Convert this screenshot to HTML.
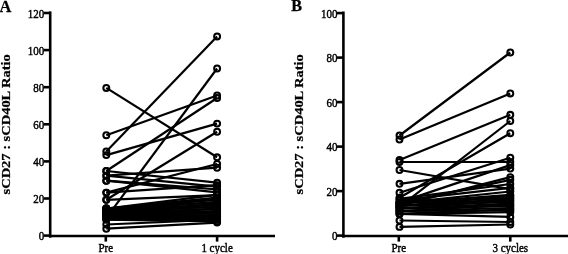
<!DOCTYPE html>
<html><head><meta charset="utf-8"><style>
html,body{margin:0;padding:0;background:#fff;}
body{width:568px;height:254px;overflow:hidden;}
svg{display:block;will-change:transform;}
</style></head><body>
<svg width="568" height="254" viewBox="0 0 568 254">
<g stroke="#000" stroke-width="2.6" fill="none"><line x1="50.2" y1="11.4" x2="50.2" y2="237.7"/><line x1="48.900000000000006" y1="235.95" x2="275" y2="235.95"/><line x1="43.7" y1="235.6" x2="50.2" y2="235.6"/><line x1="43.7" y1="198.5" x2="50.2" y2="198.5"/><line x1="43.7" y1="161.4" x2="50.2" y2="161.4"/><line x1="43.7" y1="124.3" x2="50.2" y2="124.3"/><line x1="43.7" y1="87.2" x2="50.2" y2="87.2"/><line x1="43.7" y1="50.1" x2="50.2" y2="50.1"/><line x1="43.7" y1="13.0" x2="50.2" y2="13.0"/><line x1="105.80000000000001" y1="235.6" x2="105.80000000000001" y2="241.6"/><line x1="217.10000000000002" y1="235.6" x2="217.10000000000002" y2="241.6"/></g><g font-family="Liberation Serif, serif" font-size="11" fill="#000" stroke="#000" stroke-width="0.4"><text transform="translate(44.3,240.1) scale(1,1.08)" text-anchor="end">0</text><text transform="translate(44.3,203.0) scale(1,1.08)" text-anchor="end">20</text><text transform="translate(44.3,165.9) scale(1,1.08)" text-anchor="end">40</text><text transform="translate(44.3,128.8) scale(1,1.08)" text-anchor="end">60</text><text transform="translate(44.3,91.7) scale(1,1.08)" text-anchor="end">80</text><text transform="translate(44.3,54.6) scale(1,1.08)" text-anchor="end">100</text><text transform="translate(44.3,17.5) scale(1,1.08)" text-anchor="end">120</text><text transform="translate(105.80000000000001,251.5) scale(1,1.08)" text-anchor="middle">Pre</text><text transform="translate(217.10000000000002,251.5) scale(1,1.08)" text-anchor="middle">1 cycle</text></g><g stroke="#000" stroke-width="2.6" fill="none"><line x1="343.4" y1="11.5" x2="343.4" y2="237.7"/><line x1="342.09999999999997" y1="235.95" x2="568" y2="235.95"/><line x1="336.9" y1="235.6" x2="343.4" y2="235.6"/><line x1="336.9" y1="191.1" x2="343.4" y2="191.1"/><line x1="336.9" y1="146.6" x2="343.4" y2="146.6"/><line x1="336.9" y1="102.1" x2="343.4" y2="102.1"/><line x1="336.9" y1="57.6" x2="343.4" y2="57.6"/><line x1="336.9" y1="13.1" x2="343.4" y2="13.1"/><line x1="398.79999999999995" y1="235.6" x2="398.79999999999995" y2="241.6"/><line x1="510.29999999999995" y1="235.6" x2="510.29999999999995" y2="241.6"/></g><g font-family="Liberation Serif, serif" font-size="11" fill="#000" stroke="#000" stroke-width="0.4"><text transform="translate(337.5,240.1) scale(1,1.08)" text-anchor="end">0</text><text transform="translate(337.5,195.6) scale(1,1.08)" text-anchor="end">20</text><text transform="translate(337.5,151.1) scale(1,1.08)" text-anchor="end">40</text><text transform="translate(337.5,106.6) scale(1,1.08)" text-anchor="end">60</text><text transform="translate(337.5,62.1) scale(1,1.08)" text-anchor="end">80</text><text transform="translate(337.5,17.6) scale(1,1.08)" text-anchor="end">100</text><text transform="translate(398.79999999999995,251.5) scale(1,1.08)" text-anchor="middle">Pre</text><text transform="translate(510.29999999999995,251.5) scale(1,1.08)" text-anchor="middle">3 cycles</text></g><g stroke="#000" stroke-width="2.2"><line x1="106.3" y1="87.9" x2="217.1" y2="157.3"/><line x1="106.3" y1="135.2" x2="217.1" y2="95.5"/><line x1="106.3" y1="151.4" x2="217.1" y2="36.4"/><line x1="106.3" y1="155.1" x2="217.1" y2="123.6"/><line x1="106.3" y1="171.0" x2="217.1" y2="98.0"/><line x1="106.3" y1="217.8" x2="217.1" y2="68.5"/><line x1="106.3" y1="199.8" x2="217.1" y2="131.7"/><line x1="106.3" y1="171.0" x2="217.1" y2="182.7"/><line x1="106.3" y1="175.7" x2="217.1" y2="167.7"/><line x1="106.3" y1="192.6" x2="217.1" y2="164.0"/><line x1="106.3" y1="175.7" x2="217.1" y2="186.6"/><line x1="106.3" y1="180.7" x2="217.1" y2="189.4"/><line x1="106.3" y1="180.7" x2="217.1" y2="192.4"/><line x1="106.3" y1="199.8" x2="217.1" y2="195.2"/><line x1="106.3" y1="192.6" x2="217.1" y2="185.1"/><line x1="106.3" y1="208.5" x2="217.1" y2="194.8"/><line x1="106.3" y1="208.5" x2="217.1" y2="197.6"/><line x1="106.3" y1="208.5" x2="217.1" y2="200.0"/><line x1="106.3" y1="208.5" x2="217.1" y2="202.6"/><line x1="106.3" y1="210.4" x2="217.1" y2="198.9"/><line x1="106.3" y1="210.4" x2="217.1" y2="201.8"/><line x1="106.3" y1="210.4" x2="217.1" y2="204.8"/><line x1="106.3" y1="210.4" x2="217.1" y2="207.0"/><line x1="106.3" y1="212.2" x2="217.1" y2="204.1"/><line x1="106.3" y1="212.2" x2="217.1" y2="206.7"/><line x1="106.3" y1="212.2" x2="217.1" y2="209.3"/><line x1="106.3" y1="212.2" x2="217.1" y2="211.9" stroke-width="1.8"/><line x1="106.3" y1="214.1" x2="217.1" y2="208.5"/><line x1="106.3" y1="214.1" x2="217.1" y2="211.1"/><line x1="106.3" y1="214.1" x2="217.1" y2="213.7" stroke-width="1.8"/><line x1="106.3" y1="214.1" x2="217.1" y2="215.9"/><line x1="106.3" y1="215.9" x2="217.1" y2="212.6"/><line x1="106.3" y1="215.9" x2="217.1" y2="215.2"/><line x1="106.3" y1="215.9" x2="217.1" y2="217.4"/><line x1="106.3" y1="217.8" x2="217.1" y2="216.7"/><line x1="106.3" y1="217.8" x2="217.1" y2="219.3"/><line x1="106.3" y1="219.6" x2="217.1" y2="218.2"/><line x1="106.3" y1="219.6" x2="217.1" y2="221.5"/><line x1="106.3" y1="224.5" x2="217.1" y2="219.6"/><line x1="106.3" y1="228.7" x2="217.1" y2="222.6"/></g><g stroke="#000" stroke-width="2.05" fill="none"><circle cx="106.3" cy="87.9" r="2.95"/><circle cx="217.1" cy="157.3" r="2.95"/><circle cx="106.3" cy="135.2" r="2.95"/><circle cx="217.1" cy="95.5" r="2.95"/><circle cx="106.3" cy="151.4" r="2.95"/><circle cx="217.1" cy="36.4" r="2.95"/><circle cx="106.3" cy="155.1" r="2.95"/><circle cx="217.1" cy="123.6" r="2.95"/><circle cx="106.3" cy="171.0" r="2.95"/><circle cx="217.1" cy="98.0" r="2.95"/><circle cx="106.3" cy="217.8" r="2.95"/><circle cx="217.1" cy="68.5" r="2.95"/><circle cx="106.3" cy="199.8" r="2.95"/><circle cx="217.1" cy="131.7" r="2.95"/><circle cx="106.3" cy="171.0" r="2.95"/><circle cx="217.1" cy="182.7" r="2.95"/><circle cx="106.3" cy="175.7" r="2.95"/><circle cx="217.1" cy="167.7" r="2.95"/><circle cx="106.3" cy="192.6" r="2.95"/><circle cx="217.1" cy="164.0" r="2.95"/><circle cx="106.3" cy="175.7" r="2.95"/><circle cx="217.1" cy="186.6" r="2.95"/><circle cx="106.3" cy="180.7" r="2.95"/><circle cx="217.1" cy="189.4" r="2.95"/><circle cx="106.3" cy="180.7" r="2.95"/><circle cx="217.1" cy="192.4" r="2.95"/><circle cx="106.3" cy="199.8" r="2.95"/><circle cx="217.1" cy="195.2" r="2.95"/><circle cx="106.3" cy="192.6" r="2.95"/><circle cx="217.1" cy="185.1" r="2.95"/><circle cx="106.3" cy="208.5" r="2.95"/><circle cx="217.1" cy="194.8" r="2.95"/><circle cx="106.3" cy="208.5" r="2.95"/><circle cx="217.1" cy="197.6" r="2.95"/><circle cx="106.3" cy="208.5" r="2.95"/><circle cx="217.1" cy="200.0" r="2.95"/><circle cx="106.3" cy="208.5" r="2.95"/><circle cx="217.1" cy="202.6" r="2.95"/><circle cx="106.3" cy="210.4" r="2.95"/><circle cx="217.1" cy="198.9" r="2.95"/><circle cx="106.3" cy="210.4" r="2.95"/><circle cx="217.1" cy="201.8" r="2.95"/><circle cx="106.3" cy="210.4" r="2.95"/><circle cx="217.1" cy="204.8" r="2.95"/><circle cx="106.3" cy="210.4" r="2.95"/><circle cx="217.1" cy="207.0" r="2.95"/><circle cx="106.3" cy="212.2" r="2.95"/><circle cx="217.1" cy="204.1" r="2.95"/><circle cx="106.3" cy="212.2" r="2.95"/><circle cx="217.1" cy="206.7" r="2.95"/><circle cx="106.3" cy="212.2" r="2.95"/><circle cx="217.1" cy="209.3" r="2.95"/><circle cx="106.3" cy="212.2" r="2.95"/><circle cx="217.1" cy="211.9" r="2.95"/><circle cx="106.3" cy="214.1" r="2.95"/><circle cx="217.1" cy="208.5" r="2.95"/><circle cx="106.3" cy="214.1" r="2.95"/><circle cx="217.1" cy="211.1" r="2.95"/><circle cx="106.3" cy="214.1" r="2.95"/><circle cx="217.1" cy="213.7" r="2.95"/><circle cx="106.3" cy="214.1" r="2.95"/><circle cx="217.1" cy="215.9" r="2.95"/><circle cx="106.3" cy="215.9" r="2.95"/><circle cx="217.1" cy="212.6" r="2.95"/><circle cx="106.3" cy="215.9" r="2.95"/><circle cx="217.1" cy="215.2" r="2.95"/><circle cx="106.3" cy="215.9" r="2.95"/><circle cx="217.1" cy="217.4" r="2.95"/><circle cx="106.3" cy="217.8" r="2.95"/><circle cx="217.1" cy="216.7" r="2.95"/><circle cx="106.3" cy="217.8" r="2.95"/><circle cx="217.1" cy="219.3" r="2.95"/><circle cx="106.3" cy="219.6" r="2.95"/><circle cx="217.1" cy="218.2" r="2.95"/><circle cx="106.3" cy="219.6" r="2.95"/><circle cx="217.1" cy="221.5" r="2.95"/><circle cx="106.3" cy="224.5" r="2.95"/><circle cx="217.1" cy="219.6" r="2.95"/><circle cx="106.3" cy="228.7" r="2.95"/><circle cx="217.1" cy="222.6" r="2.95"/></g><g stroke="#000" stroke-width="2.2"><line x1="399.5" y1="135.5" x2="510.3" y2="52.5"/><line x1="399.5" y1="139.5" x2="510.3" y2="93.4"/><line x1="399.5" y1="159.9" x2="510.3" y2="114.8"/><line x1="399.5" y1="162.0" x2="510.3" y2="162.0" stroke-width="1.8"/><line x1="399.5" y1="170.0" x2="510.3" y2="189.1"/><line x1="399.5" y1="183.8" x2="510.3" y2="168.6"/><line x1="399.5" y1="192.7" x2="510.3" y2="157.7"/><line x1="399.5" y1="206.9" x2="510.3" y2="121.0"/><line x1="399.5" y1="197.8" x2="510.3" y2="133.2"/><line x1="399.5" y1="202.4" x2="510.3" y2="165.1"/><line x1="399.5" y1="205.6" x2="510.3" y2="177.1"/><line x1="399.5" y1="203.3" x2="510.3" y2="179.8"/><line x1="399.5" y1="198.9" x2="510.3" y2="184.0"/><line x1="399.5" y1="200.4" x2="510.3" y2="187.8"/><line x1="399.5" y1="203.1" x2="510.3" y2="191.5"/><line x1="399.5" y1="203.1" x2="510.3" y2="194.9"/><line x1="399.5" y1="203.1" x2="510.3" y2="197.8"/><line x1="399.5" y1="205.8" x2="510.3" y2="196.0"/><line x1="399.5" y1="205.8" x2="510.3" y2="199.1"/><line x1="399.5" y1="205.8" x2="510.3" y2="201.8"/><line x1="399.5" y1="208.5" x2="510.3" y2="200.4"/><line x1="399.5" y1="208.5" x2="510.3" y2="203.6"/><line x1="399.5" y1="208.5" x2="510.3" y2="206.2"/><line x1="399.5" y1="211.1" x2="510.3" y2="204.9"/><line x1="399.5" y1="211.1" x2="510.3" y2="208.0"/><line x1="399.5" y1="211.1" x2="510.3" y2="210.7" stroke-width="1.8"/><line x1="399.5" y1="213.8" x2="510.3" y2="209.3"/><line x1="399.5" y1="213.8" x2="510.3" y2="212.2"/><line x1="399.5" y1="213.8" x2="510.3" y2="216.9"/><line x1="399.5" y1="220.5" x2="510.3" y2="222.0"/><line x1="399.5" y1="226.9" x2="510.3" y2="224.5"/></g><g stroke="#000" stroke-width="2.05" fill="none"><circle cx="399.5" cy="135.5" r="2.95"/><circle cx="510.3" cy="52.5" r="2.95"/><circle cx="399.5" cy="139.5" r="2.95"/><circle cx="510.3" cy="93.4" r="2.95"/><circle cx="399.5" cy="159.9" r="2.95"/><circle cx="510.3" cy="114.8" r="2.95"/><circle cx="399.5" cy="162.0" r="2.95"/><circle cx="510.3" cy="162.0" r="2.95"/><circle cx="399.5" cy="170.0" r="2.95"/><circle cx="510.3" cy="189.1" r="2.95"/><circle cx="399.5" cy="183.8" r="2.95"/><circle cx="510.3" cy="168.6" r="2.95"/><circle cx="399.5" cy="192.7" r="2.95"/><circle cx="510.3" cy="157.7" r="2.95"/><circle cx="399.5" cy="206.9" r="2.95"/><circle cx="510.3" cy="121.0" r="2.95"/><circle cx="399.5" cy="197.8" r="2.95"/><circle cx="510.3" cy="133.2" r="2.95"/><circle cx="399.5" cy="202.4" r="2.95"/><circle cx="510.3" cy="165.1" r="2.95"/><circle cx="399.5" cy="205.6" r="2.95"/><circle cx="510.3" cy="177.1" r="2.95"/><circle cx="399.5" cy="203.3" r="2.95"/><circle cx="510.3" cy="179.8" r="2.95"/><circle cx="399.5" cy="198.9" r="2.95"/><circle cx="510.3" cy="184.0" r="2.95"/><circle cx="399.5" cy="200.4" r="2.95"/><circle cx="510.3" cy="187.8" r="2.95"/><circle cx="399.5" cy="203.1" r="2.95"/><circle cx="510.3" cy="191.5" r="2.95"/><circle cx="399.5" cy="203.1" r="2.95"/><circle cx="510.3" cy="194.9" r="2.95"/><circle cx="399.5" cy="203.1" r="2.95"/><circle cx="510.3" cy="197.8" r="2.95"/><circle cx="399.5" cy="205.8" r="2.95"/><circle cx="510.3" cy="196.0" r="2.95"/><circle cx="399.5" cy="205.8" r="2.95"/><circle cx="510.3" cy="199.1" r="2.95"/><circle cx="399.5" cy="205.8" r="2.95"/><circle cx="510.3" cy="201.8" r="2.95"/><circle cx="399.5" cy="208.5" r="2.95"/><circle cx="510.3" cy="200.4" r="2.95"/><circle cx="399.5" cy="208.5" r="2.95"/><circle cx="510.3" cy="203.6" r="2.95"/><circle cx="399.5" cy="208.5" r="2.95"/><circle cx="510.3" cy="206.2" r="2.95"/><circle cx="399.5" cy="211.1" r="2.95"/><circle cx="510.3" cy="204.9" r="2.95"/><circle cx="399.5" cy="211.1" r="2.95"/><circle cx="510.3" cy="208.0" r="2.95"/><circle cx="399.5" cy="211.1" r="2.95"/><circle cx="510.3" cy="210.7" r="2.95"/><circle cx="399.5" cy="213.8" r="2.95"/><circle cx="510.3" cy="209.3" r="2.95"/><circle cx="399.5" cy="213.8" r="2.95"/><circle cx="510.3" cy="212.2" r="2.95"/><circle cx="399.5" cy="213.8" r="2.95"/><circle cx="510.3" cy="216.9" r="2.95"/><circle cx="399.5" cy="220.5" r="2.95"/><circle cx="510.3" cy="222.0" r="2.95"/><circle cx="399.5" cy="226.9" r="2.95"/><circle cx="510.3" cy="224.5" r="2.95"/></g><g font-family="Liberation Serif, serif" font-weight="bold" fill="#000" stroke="#000" stroke-width="0.25"><text transform="translate(-0.5,11.6) scale(1,1.06)" font-size="16.4">A</text><text transform="translate(291.3,11.1) scale(1,1.06)" font-size="16.2">B</text><text transform="translate(10.0,124.3) rotate(-90) scale(1.02,0.95)" text-anchor="middle" font-size="14.2">sCD27 : sCD40L Ratio</text><text transform="translate(303.0,124.3) rotate(-90) scale(1.02,0.95)" text-anchor="middle" font-size="14.2">sCD27 : sCD40L Ratio</text></g>
</svg>
</body></html>
